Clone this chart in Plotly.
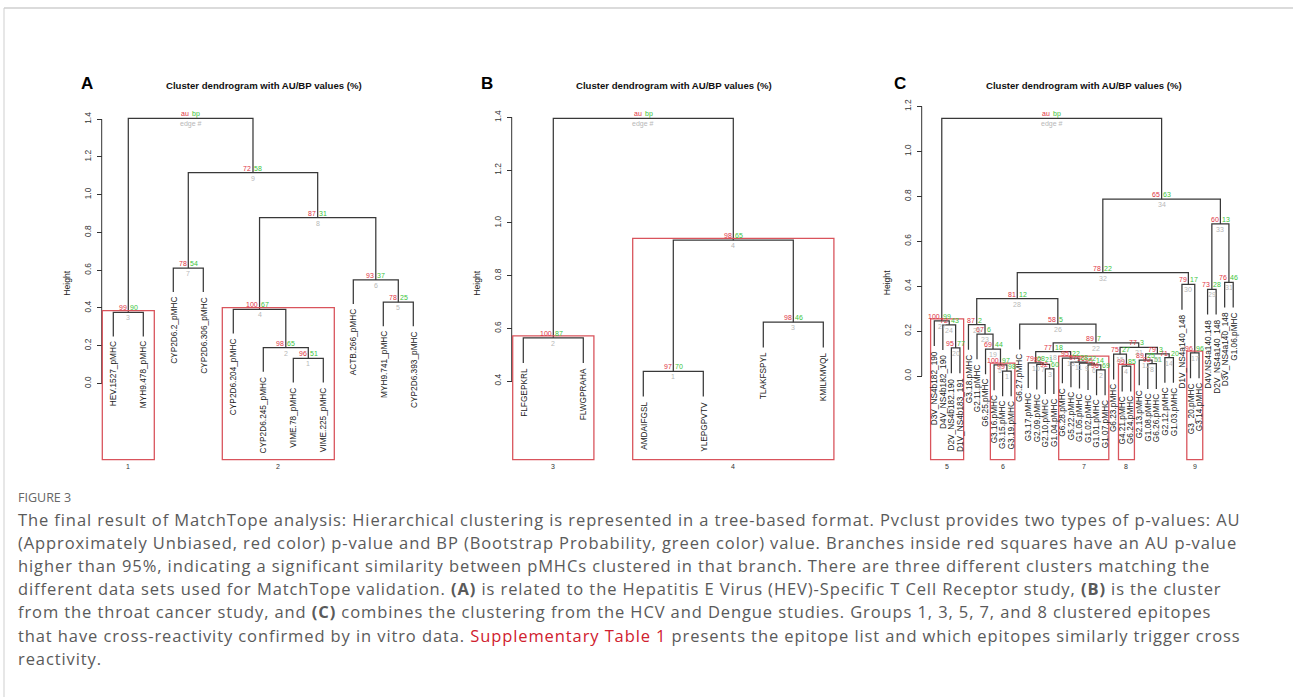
import plotly.graph_objects as go

W, H = 1293, 697
FR = "Liberation Sans, Arial, Helvetica, sans-serif"
FC = "Open Sans, Noto Sans, sans-serif"
AU_COL = "#e0323f"
BP_COL = "#3cc43c"
ED_COL = "#b8b8b8"
RECT_COL = "#d9545c"
LINE_COL = "#383838"

# ---------------- Panel A data ----------------
A_leaves = ["HEV.1527_pMHC", "MYH9.478_pMHC", "CYP2D6.2_pMHC", "CYP2D6.306_pMHC",
            "CYP2D6.204_pMHC", "CYP2D6.245_pMHC", "VIME.78_pMHC", "VIME.225_pMHC",
            "ACTB.266_pMHC", "MYH9.741_pMHC", "CYP2D6.393_pMHC"]
A_left = [-7, -6, -1, -5, -10, -9, -3, 4, 7, 3]
A_right = [-8, 1, -2, 2, -11, 5, -4, 6, 8, 9]
A_height = [0.132, 0.189, 0.376, 0.392, 0.430, 0.548, 0.611, 0.878, 1.117, 1.405]
A_au = [96, 98, 99, 100, 78, 93, 78, 87, 72, None]
A_bp = [51, 65, 90, 67, 25, 37, 54, 31, 58, None]
A_rect_edges = [3, 4]
A_rect_labels = ["1", "2"]
A_yticks = [0.0, 0.2, 0.4, 0.6, 0.8, 1.0, 1.2, 1.4]

# ---------------- Panel B data ----------------
B_leaves = ["FLFGEPKRL", "FLWGPRAHA", "AMDAIFGSL", "YLEPGPVTV", "TLAKFSPYL", "KMILKMVQL"]
B_left = [-3, -1, -5, 1, 2]
B_right = [-4, -2, -6, 3, 4]
B_height = [0.437, 0.564, 0.623, 0.934, 1.396]
B_au = [97, 100, 98, 98, None]
B_bp = [70, 87, 46, 65, None]
B_rect_edges = [2, 4]
B_rect_labels = ["3", "4"]
B_yticks = [0.4, 0.6, 0.8, 1.0, 1.2, 1.4]

# ---------------- Panel C data ----------------
C_leaves = ["D3V_NS4b182_190", "D4V_NS4b182_190", "D2V_NS4b182.190", "D1V_NS4b183_191",
            "G3.18.pMHC", "G2.11.pMHC", "G6.25.pMHC", "G3.16.pMHC", "G3.15.pMHC", "G3.19.pMHC",
            "G6.27.pMHC", "G3.17.pMHC", "G2.09.pMHC", "G2.10.pMHC", "G1.04.pMHC",
            "G6.28.pMHC", "G5.22.pMHC", "G1.05.pMHC", "G1.02.pMHC", "G1.01.pMHC", "G1.07.pMHC",
            "G6.23.pMHC", "G4.21.pMHC", "G6.24.pMHC", "G2.13.pMHC", "G1.08.pMHC", "G6.26.pMHC",
            "G2.12.pMHC", "G1.03.pMHC", "D1V_NS4a140_148", "G3_20.pMHC", "G3.14.pMHC",
            "D4V.NS4a140.148", "D2V_NS4a140_148", "D3V_NS4a140_148", "G1.06.pMHC"]
C_left = [-9, -20, -14, -23, -8, -19, -13, -26, -18, -12, -17, -25, -16, -28, -22, 12, -31, 10,
          -7, -3, 15, 18, -6, -2, -5, -11, -1, 25, -33, -30, -35, 28, 29, 32, 27]
C_right = [-10, -21, -15, -24, 1, 2, 3, -27, 6, 7, 9, 8, 11, -29, 4, 14, -32, 13,
           5, -4, 16, 21, 19, 20, 23, 22, 24, 26, -34, 17, -36, 30, 31, 33, 34]
C_height = [0.022, 0.027, 0.032, 0.044, 0.049, 0.050, 0.052, 0.055, 0.057, 0.059, 0.062,
            0.071, 0.080, 0.082, 0.097, 0.099, 0.103, 0.108, 0.120, 0.125, 0.127, 0.148,
            0.187, 0.228, 0.229, 0.231, 0.246, 0.344, 0.386, 0.408, 0.417, 0.460, 0.677,
            0.787, 1.147]
C_au = [99, 96, 92, 99, 100, 95, 82, 92, 96, 79, 97, 89, 95, 71, 75, 79, 96, 77, 69, 95, 77,
        89, 67, 72, 87, 58, 100, 81, 73, 79, 76, 78, 60, 65, None]
C_bp = [98, 69, 60, 85, 97, 14, 21, 51, 22, 68, 28, 25, 22, 20, 27, 3, 96, 18, 44, 77, 3,
        7, 6, 43, 2, 5, 99, 12, 28, 17, 46, 22, 13, 63, None]
C_rect_edges = [27, 5, 13, 4, 17]
C_rect_labels = ["5", "6", "7", "8", "9"]
C_yticks = [0.0, 0.2, 0.4, 0.6, 0.8, 1.0, 1.2]

TITLE = "Cluster dendrogram with AU/BP values (%)"

caption_head = "FIGURE 3"
caption_lines = [
    "The final result of MatchTope analysis: Hierarchical clustering is represented in a tree-based format. Pvclust provides two types of p-values: AU",
    "(Approximately Unbiased, red color) p-value and BP (Bootstrap Probability, green color) value. Branches inside red squares have an AU p-value",
    "higher than 95%, indicating a significant similarity between pMHCs clustered in that branch. There are three different clusters matching the",
    "different data sets used for MatchTope validation. <b>(A)</b> is related to the Hepatitis E Virus (HEV)-Specific T Cell Receptor study, <b>(B)</b> is the cluster",
    "from the throat cancer study, and <b>(C)</b> combines the clustering from the HCV and Dengue studies. Groups 1, 3, 5, 7, and 8 clustered epitopes",
    "that have cross-reactivity confirmed by in vitro data. <span style='color:#d0202e'>Supplementary Table 1</span> presents the epitope list and which epitopes similarly trigger cross",
    "reactivity.",
]

# ---------------- layout parameters (pixels) ----------------
panels = [
    dict(letter="A", leaves=A_leaves, left=A_left, right=A_right, height=A_height, au=A_au, bp=A_bp,
         rects=A_rect_edges, rlabels=A_rect_labels, yticks=A_yticks,
         leaf1=113.3, step=30.0, h0=383.3, ppu=188.6, axis=101.7, xdom=(95, 432), pad=11.0,
         letter_xy=(87, 83), ylab=66.7, title_x=263.5),
    dict(letter="B", leaves=B_leaves, left=B_left, right=B_right, height=B_height, au=B_au, bp=B_bp,
         rects=B_rect_edges, rlabels=B_rect_labels, yticks=B_yticks,
         leaf1=523.3, step=60.0, h0=486.5, ppu=263.7, axis=511.7, xdom=(505, 842), pad=10.6,
         letter_xy=(487, 83), ylab=476.7, title_x=673.5),
    dict(letter="C", leaves=C_leaves, left=C_left, right=C_right, height=C_height, au=C_au, bp=C_bp,
         rects=C_rect_edges, rlabels=C_rect_labels, yticks=C_yticks,
         leaf1=934.3, step=8.54, h0=376.0, ppu=224.6, axis=921.7, xdom=(915, 1245), pad=3.7,
         letter_xy=(900, 83), ylab=887.3, title_x=1084.0),
]
PLOT_TOP, PLOT_BOT = 100.0, 461.5
HANG = 0.1

fig = go.Figure()
annotations = []
shapes = []


def members(idx, left, right):
    out = []
    for c in (left[idx], right[idx]):
        if c < 0:
            out.append(-c)
        else:
            out += members(c - 1, left, right)
    return out


for pi, p in enumerate(panels):
    sfx = "" if pi == 0 else str(pi + 1)
    xref, yref = "x" + sfx, "y" + sfx
    left, right, height = p["left"], p["right"], p["height"]
    n = len(p["leaves"])
    mx = []
    parent_h = [None] * (n + 1)

    def cx(c):
        return float(-c) if c < 0 else mx[c - 1]

    for i in range(len(height)):
        mx.append((cx(left[i]) + cx(right[i])) / 2.0)
        for c in (left[i], right[i]):
            if c < 0:
                parent_h[-c] = height[i]
    hang_u = HANG * (max(height) - min(height))
    leaf_bot = [None] + [parent_h[k] - hang_u for k in range(1, n + 1)]

    def cy(c):
        return leaf_bot[-c] if c < 0 else height[c - 1]

    xs, ys = [], []
    for i in range(len(height)):
        h = height[i]
        xs += [cx(left[i]), cx(left[i]), cx(right[i]), cx(right[i]), None]
        ys += [cy(left[i]), h, h, cy(right[i]), None]
    fig.add_trace(go.Scatter(x=xs, y=ys, mode="lines", line=dict(color=LINE_COL, width=1.25),
                             xaxis=xref, yaxis=yref, hoverinfo="skip", showlegend=False))

    x0px, x1px = p["xdom"]
    xr = [1 + (x0px - p["leaf1"]) / p["step"], 1 + (x1px - p["leaf1"]) / p["step"]]
    ht = (p["h0"] - PLOT_TOP) / p["ppu"]
    hb = (p["h0"] - PLOT_BOT) / p["ppu"]
    xa = dict(domain=[x0px / W, x1px / W], range=xr, visible=False, fixedrange=True)
    ya = dict(domain=[1 - PLOT_BOT / H, 1 - PLOT_TOP / H], range=[hb, ht], anchor="free",
              position=p["axis"] / W, showgrid=False, zeroline=False, showline=False,
              ticks="outside", ticklen=5, tickwidth=1, tickcolor="#333",
              tickvals=p["yticks"], ticktext=["%.1f" % t for t in p["yticks"]],
              tickangle=-90, tickfont=dict(family=FR, size=8.4, color="#333"),
              ticklabelstandoff=2, fixedrange=True)
    fig.update_layout(**{"xaxis" + sfx: xa, "yaxis" + sfx: ya})
    shapes.append(dict(type="line", xref="paper", yref=yref, x0=p["axis"] / W, x1=p["axis"] / W,
                       y0=p["yticks"][0], y1=p["yticks"][-1], line=dict(color="#333", width=1)))

    ne = len(height)
    for i in range(ne):
        last = i == ne - 1
        t_au = "au" if last else str(p["au"][i])
        t_bp = "bp" if last else str(p["bp"][i])
        t_ed = "edge #" if last else str(i + 1)
        annotations.append(dict(x=mx[i], y=height[i], xref=xref, yref=yref, text=t_au, showarrow=False,
                                xanchor="right", yanchor="middle", xshift=-0.5, yshift=4.5,
                                font=dict(family=FR, size=7, color=AU_COL), borderpad=0))
        annotations.append(dict(x=mx[i], y=height[i], xref=xref, yref=yref, text=t_bp, showarrow=False,
                                xanchor="left", yanchor="middle", xshift=0.5, yshift=4.5,
                                font=dict(family=FR, size=7, color=BP_COL), borderpad=0))
        annotations.append(dict(x=mx[i], y=height[i], xref=xref, yref=yref, text=t_ed, showarrow=False,
                                xanchor="center", yanchor="middle", yshift=-5.5,
                                font=dict(family=FR, size=7, color=ED_COL), borderpad=0))

    for k, lab in enumerate(p["leaves"], start=1):
        annotations.append(dict(x=k, y=leaf_bot[k], xref=xref, yref=yref, text=lab, showarrow=False,
                                textangle=-90, xanchor="center", yanchor="top", yshift=-4,
                                font=dict(family=FR, size=8.3, color="#222"), borderpad=0))

    pad_u = p["pad"] / p["step"]
    my = (ht - hb) / 200.0
    for e, lab in zip(p["rects"], p["rlabels"]):
        mem = members(e - 1, left, right)
        xl, xrr = min(mem) - pad_u, max(mem) + pad_u
        shapes.append(dict(type="rect", xref=xref, yref=yref, x0=xl, x1=xrr, y0=hb + my,
                           y1=height[e - 1] + my, line=dict(color=RECT_COL, width=1.3)))
        annotations.append(dict(x=(xl + xrr) / 2, y=hb, xref=xref, yref=yref, text=lab, showarrow=False,
                                xanchor="center", yanchor="middle", yshift=-4.5,
                                font=dict(family=FR, size=7, color="#333"), borderpad=0))

    annotations.append(dict(x=p["title_x"] / W, y=1 - 85 / H, xref="paper", yref="paper",
                            text="<b>" + TITLE + "</b>", showarrow=False, xanchor="center",
                            yanchor="middle", font=dict(family=FR, size=9.6, color="#111")))
    annotations.append(dict(x=p["letter_xy"][0] / W, y=1 - p["letter_xy"][1] / H, xref="paper",
                            yref="paper", text="<b>" + p["letter"] + "</b>", showarrow=False,
                            xanchor="center", yanchor="middle", font=dict(family=FR, size=17, color="#000")))
    annotations.append(dict(x=p["ylab"] / W, y=1 - 283 / H, xref="paper", yref="paper", text="Height",
                            showarrow=False, textangle=-90, xanchor="center", yanchor="middle",
                            font=dict(family=FR, size=8.6, color="#222")))

annotations.append(dict(x=16 / W, y=1 - 497 / H, xref="paper", yref="paper", text=caption_head,
                        showarrow=False, xanchor="left", yanchor="middle",
                        font=dict(family=FC, size=12.5, color="#666")))
for j, line in enumerate(caption_lines):
    annotations.append(dict(x=16 / W, y=1 - (519 + 23.2 * j) / H, xref="paper", yref="paper",
                            text="<span style='letter-spacing:0.9px'>" + line + "</span>",
                            showarrow=False, xanchor="left", yanchor="middle",
                            font=dict(family=FC, size=16.5, color="#5a5a5a")))

shapes.append(dict(type="line", xref="paper", yref="paper", x0=4 / W, x1=1, y0=1 - 8 / H, y1=1 - 8 / H,
                   line=dict(color="#cfcfcf", width=1.5)))
shapes.append(dict(type="line", xref="paper", yref="paper", x0=4 / W, x1=4 / W, y0=0, y1=1 - 8 / H,
                   line=dict(color="#cfcfcf", width=1)))

fig.update_layout(width=W, height=H, margin=dict(l=0, r=0, t=0, b=0), autosize=False,
                  paper_bgcolor="white", plot_bgcolor="white", showlegend=False,
                  annotations=annotations, shapes=shapes)

fig.write_html("out.html", config={"displayModeBar": False, "staticPlot": True},
               post_script="document.body.style.margin='0';document.body.style.overflow='hidden';")
